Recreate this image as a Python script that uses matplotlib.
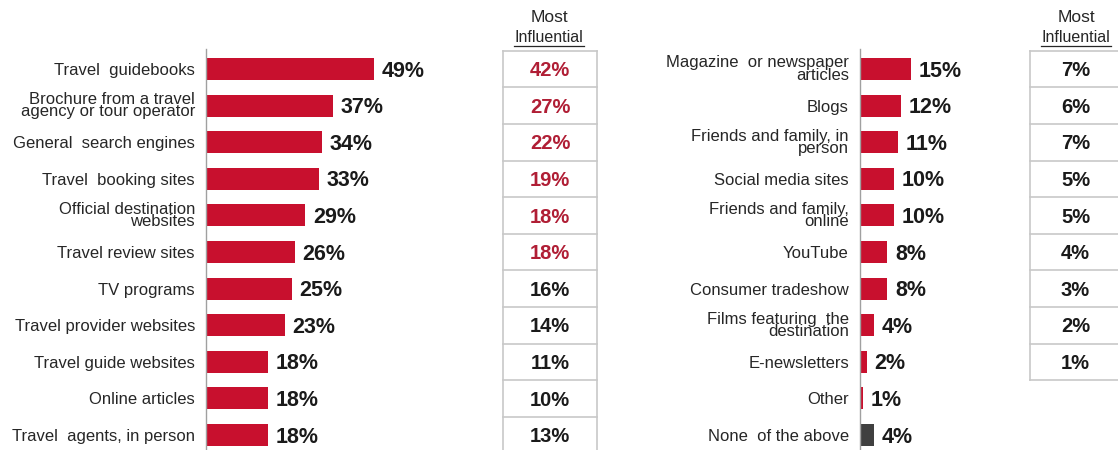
import matplotlib
matplotlib.use("Agg")
import matplotlib.pyplot as plt

plt.rcParams['font.family'] = ['Liberation Sans', 'DejaVu Sans']

# ---------------- data ----------------
left_cats = ["Travel  guidebooks", "Brochure from a travel\nagency or tour operator",
             "General  search engines", "Travel  booking sites",
             "Official destination\nwebsites", "Travel review sites", "TV programs",
             "Travel provider websites", "Travel guide websites", "Online articles",
             "Travel  agents, in person"]
left_vals = [49, 37, 34, 33, 29, 26, 25, 23, 18, 18, 18]
left_most = [42, 27, 22, 19, 18, 18, 16, 14, 11, 10, 13]

right_cats = ["Magazine  or newspaper\narticles", "Blogs", "Friends and family, in\nperson",
              "Social media sites", "Friends and family,\nonline", "YouTube",
              "Consumer tradeshow", "Films featuring  the\ndestination", "E-newsletters",
              "Other", "None  of the above"]
right_vals = [15, 12, 11, 10, 10, 8, 8, 4, 2, 1, 4]
right_most = [7, 6, 7, 5, 5, 4, 3, 2, 1]

header = ["Most", "Influential"]

# ---------------- styles ----------------
W, H = 1118, 450
RED = "#C8102E"
DARK = "#404040"
TXT = "#262626"
VAL = "#1a1a1a"
TRED = "#B01E35"
GRID = "#C8C8C8"
SCALE = 3.42  # px per percent

fig = plt.figure(figsize=(W / 100, H / 100), dpi=100)

top_px, bot_px = 50.7, 453.3
ax_b = (H - bot_px) / H
ax_h = (bot_px - top_px) / H


def bar_panel(x0, x1, cats, vals, colors):
    ax = fig.add_axes([x0 / W, ax_b, (x1 - x0) / W, ax_h])
    n = len(cats)
    ypos = list(range(n))
    ax.barh(ypos, vals, height=0.6, color=colors)
    ax.set_xlim(0, (x1 - x0) / SCALE)
    ax.set_ylim(n - 0.5, -0.5)
    ax.set_yticks(ypos)
    ax.set_yticklabels(cats, fontsize=12, color=TXT, linespacing=0.78)
    ax.tick_params(axis='y', length=0, pad=8)
    ax.set_xticks([])
    for s in ['top', 'right', 'bottom']:
        ax.spines[s].set_visible(False)
    ax.spines['left'].set_color("#A0A0A0")
    ax.spines['left'].set_linewidth(1.0)
    ax.spines['left'].set_bounds(n - 0.5, -0.55)
    for y, v in zip(ypos, vals):
        ax.annotate(f"{v}%", (v, y), xytext=(5.5, -1.5), textcoords='offset points',
                    ha='left', va='center', fontsize=15.5, fontweight='bold', color=VAL)
    ax.patch.set_alpha(0)
    return ax


def table_panel(x0, x1, vals, nrows, n_red):
    ax = fig.add_axes([x0 / W, ax_b, (x1 - x0) / W, ax_h])
    ax.set_xlim(0, 1)
    ax.set_ylim(nrows - 0.5, -0.5)
    ax.axis('off')
    k = len(vals)
    for i in range(k + 1):
        ax.plot([0, 1], [i - 0.5, i - 0.5], color=GRID, lw=1.2, clip_on=False)
    for x in (0, 1):
        ax.plot([x, x], [-0.5, k - 0.5], color=GRID, lw=1.2, clip_on=False)
    for i, v in enumerate(vals):
        ax.annotate(f"{v}%", (0.5, i), xytext=(0, -1.2), textcoords='offset points',
                    ha='center', va='center', fontsize=14.5,
                    fontweight='bold', color=TRED if i < n_red else VAL)
    return ax


left_colors = [RED] * len(left_vals)
right_colors = [RED] * (len(right_vals) - 1) + [DARK]

bar_panel(206, 440, left_cats, left_vals, left_colors)
bar_panel(860, 1000, right_cats, right_vals, right_colors)

table_panel(503, 597, left_most, len(left_vals), 6)
table_panel(1030, 1121, right_most, len(right_vals), 0)

# headers
for cx in (549, 1076):
    fig.text(cx / W, 1 - 17 / H, header[0], ha='center', va='center', fontsize=12.5, color=TXT)
    fig.text(cx / W, 1 - 37 / H, header[1], ha='center', va='center', fontsize=11.5, color=TXT)
    fig.add_artist(plt.Line2D([(cx - 35) / W, (cx + 35) / W], [1 - 46 / H, 1 - 46 / H],
                              color=TXT, lw=0.9, transform=fig.transFigure))

fig.savefig("out.png", dpi=100, facecolor="white")
